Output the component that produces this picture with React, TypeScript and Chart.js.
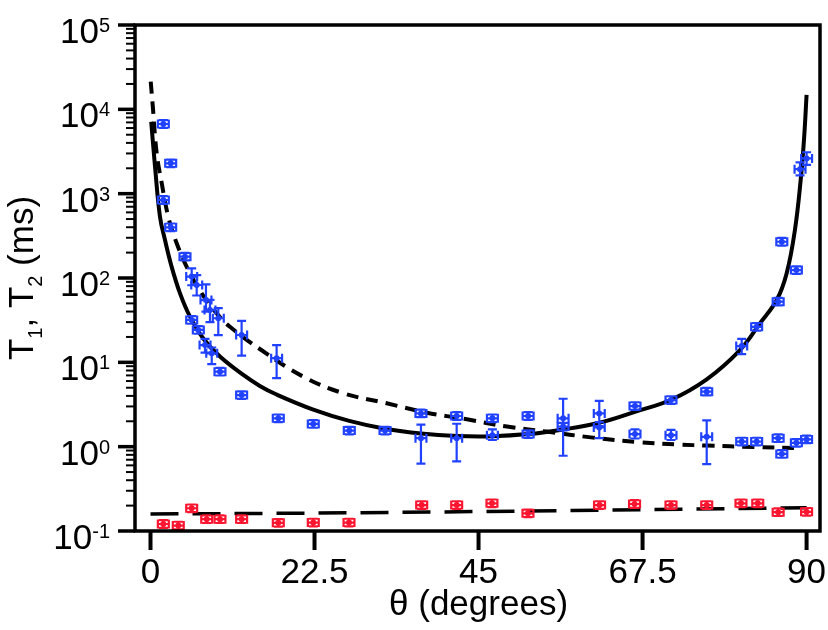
import React, { useEffect, useRef } from 'react';
import { Chart, registerables, Plugin } from 'chart.js';

Chart.register(...registerables);

const FONT = '"Liberation Sans", Arial, Helvetica, sans-serif';
const BLUE = 'rgb(32, 66, 255)';
const RED = 'rgb(250, 22, 48)';

// axis ticks
const xTicks = [0, 22.5, 45, 67.5, 90];
const xTickLabels = ['0', '22.5', '45', '67.5', '90'];
const yDecades = [-1, 0, 1, 2, 3, 4, 5];

// T1 measurements (blue), value in ms; null error = the usual tiny bar
const t1Theta = [
  1.76, 2.77, 1.76, 2.77, 4.73, 5.65, 6.34, 7.61, 8.16, 9.3,
  5.65, 6.56, 7.48, 8.4, 9.53, 12.5, 17.3, 12.5, 17.53, 22.33,
  27.27, 32.17, 37.1, 37.1, 42.0, 42.0, 46.9, 46.9, 51.8, 51.8,
  56.6, 56.6, 61.56, 61.56, 66.46, 66.46, 71.4, 71.4, 76.3, 76.3,
  81.1, 81.1, 83.15, 86.1, 86.6, 88.6, 90.0, 90.0, 89.1, 86.6,
  88.6, 86.1, 83.15,
];
const t1Value = [
  6700, 2290, 841, 399, 179, 104, 82.6, 54.8, 41.7, 33.3,
  31.8, 24.2, 16.0, 12.8, 7.74, 21.1, 11.2, 4.09, 2.17, 1.86,
  1.55, 1.55, 2.48, 1.26, 2.31, 1.26, 2.17, 1.37, 2.31, 1.41,
  2.17, 1.73, 2.48, 1.69, 3.03, 1.41, 3.57, 1.37, 4.49, 1.31,
  15.6, 1.15, 1.15, 1.26, 0.82, 1.11, 1.22, 2620, 1950, 269,
  124, 52.4, 26.4,
];
const t1Low = [
  null, null, null, null, null, 82, 62, 40, 30, 21,
  null, null, 13, 9.5, null, 12, 6.5, null, null, null,
  null, null, null, 0.63, null, 0.67, null, 1.2, null, null,
  0.78, null, 1.75, 1.26, null, 1.25, null, 1.2, null, 0.62,
  12.5, null, null, null, null, null, null, 2200, 1650, null,
  null, null, null,
];
const t1High = [
  null, null, null, null, null, 130, 108, 84, 55, 44,
  null, null, 19, 15, null, 31, 16, null, null, null,
  null, null, null, 1.83, null, 1.87, null, 1.6, null, null,
  3.7, null, 3.5, 1.95, null, 1.6, null, 1.58, null, 2.05,
  19, null, null, null, null, null, null, 3100, 2350, null,
  null, null, null,
];

// T2 measurements (red)
const t2Theta = [
  1.76, 3.81, 5.65, 7.71, 9.53, 12.5, 17.53, 22.33, 27.23, 37.2,
  42.0, 46.84, 51.78, 61.6, 66.4, 71.4, 76.3, 81.0, 83.3, 86.1, 90.0,
];
const t2Value = [
  0.121, 0.116, 0.186, 0.138, 0.138, 0.138, 0.125, 0.126, 0.126, 0.203,
  0.203, 0.213, 0.162, 0.203, 0.209, 0.203, 0.203, 0.213, 0.213, 0.167, 0.169,
];

const SMALL_ERR = 0.045; // decades, typical half-height of the small bars
const THETA_ERR = 0.75; // degrees

// solid curve (T1 fit)
const fitT1Theta = [
  0.1, 0.62, 1.3, 1.99, 2.9, 4.05, 5.42, 7.24, 9.53, 12.73, 15.0, 17.3,
  22.33, 27.27, 32.17, 37.1, 42.0, 46.9, 51.8, 56.2, 61.56, 66.46, 71.4,
  76.3, 80.86, 83.6, 85.9, 87.27, 88.4, 89.19, 89.64, 90.0,
];
const fitT1Value = [
  7130, 2090, 533, 282, 136, 65.8, 34.8, 19.2, 11.7, 7.08, 5.25, 4.15,
  2.75, 2.02, 1.63, 1.43, 1.34, 1.33, 1.41, 1.58, 1.92, 2.59, 3.6,
  6.3, 14.0, 29, 54.8, 114, 371, 1450, 4330, 14800,
];

// short-dashed curve
const modelTheta = [
  0.03, 0.3, 0.85, 1.54, 2.44, 3.59, 5.19, 7.02, 9.08, 10.9, 15.2, 20.96,
  26.45, 32.4, 37.9, 43.4, 48.9, 54.3, 60.7, 67.1, 72.6, 76.3, 82.7, 89.1,
];
const modelValue = [
  21300, 11250, 3010, 1330, 533, 258, 124, 65.8, 38.1, 26.4, 14.0, 6.76,
  4.3, 3.27, 2.53, 2.11, 1.73, 1.51, 1.28, 1.13, 1.06, 1.03, 0.99, 0.96,
];

// long-dashed line (T2 fit)
const fitT2Theta = [0, 22.5, 45, 67.5, 90];
const fitT2Value = [0.159, 0.163, 0.17, 0.179, 0.189];

const toPoints = (xs: number[], ys: number[]) => xs.map((x, i) => ({ x, y: ys[i] }));

const errorBars: Plugin = {
  id: 'errorBars',
  afterDatasetsDraw(chart) {
    const { ctx } = chart;
    const xs = chart.scales.x;
    const ys = chart.scales.y;
    const cap = 4.5;
    const draw = (th: number[], val: number[], lo: (number | null)[], hi: (number | null)[], color: string) => {
      ctx.save();
      ctx.strokeStyle = color;
      ctx.lineWidth = 2.2;
      th.forEach((t, i) => {
        const v = val[i];
        const px = xs.getPixelForValue(t);
        const py = ys.getPixelForValue(v);
        const xl = xs.getPixelForValue(t - THETA_ERR);
        const xr = xs.getPixelForValue(t + THETA_ERR);
        const yTop = ys.getPixelForValue(hi[i] ?? v * Math.pow(10, SMALL_ERR));
        const yBot = ys.getPixelForValue(lo[i] ?? v / Math.pow(10, SMALL_ERR));
        ctx.beginPath();
        ctx.moveTo(xl, py); ctx.lineTo(xr, py);
        ctx.moveTo(xl, py - cap); ctx.lineTo(xl, py + cap);
        ctx.moveTo(xr, py - cap); ctx.lineTo(xr, py + cap);
        ctx.moveTo(px, yTop); ctx.lineTo(px, yBot);
        ctx.moveTo(px - cap, yTop); ctx.lineTo(px + cap, yTop);
        ctx.moveTo(px - cap, yBot); ctx.lineTo(px + cap, yBot);
        ctx.stroke();
      });
      ctx.restore();
    };
    draw(t1Theta, t1Value, t1Low, t1High, BLUE);
    draw(t2Theta, t2Value, t2Value.map(() => null), t2Value.map(() => null), RED);
  },
};

const axesDecor: Plugin = {
  id: 'axesDecor',
  afterDraw(chart) {
    const { ctx, chartArea } = chart;
    const { left, right, top, bottom } = chartArea;
    const xs = chart.scales.x;
    const ys = chart.scales.y;
    ctx.save();
    ctx.strokeStyle = '#000';
    ctx.fillStyle = '#000';

    // frame
    ctx.lineWidth = 3.5;
    ctx.strokeRect(left, top, right - left, bottom - top);

    // x ticks + labels
    ctx.lineWidth = 4;
    ctx.font = `35px ${FONT}`;
    ctx.textAlign = 'center';
    ctx.textBaseline = 'alphabetic';
    xTicks.forEach((t, i) => {
      const px = xs.getPixelForValue(t);
      ctx.beginPath();
      ctx.moveTo(px, bottom);
      ctx.lineTo(px, bottom + 19);
      ctx.stroke();
      ctx.fillText(xTickLabels[i], px, 583);
    });

    // y ticks
    yDecades.forEach((d) => {
      const py = ys.getPixelForValue(Math.pow(10, d));
      ctx.lineWidth = 3.5;
      ctx.beginPath();
      ctx.moveTo(left - 17, py);
      ctx.lineTo(left, py);
      ctx.stroke();
      if (d < 5) {
        ctx.lineWidth = 2;
        for (let m = 2; m <= 9; m++) {
          const pm = ys.getPixelForValue(m * Math.pow(10, d));
          ctx.beginPath();
          ctx.moveTo(left - 9, pm);
          ctx.lineTo(left, pm);
          ctx.stroke();
        }
      }
      // label 10^d
      const sup = String(d);
      ctx.font = `20px ${FONT}`;
      const supW = ctx.measureText(sup).width;
      ctx.textAlign = 'left';
      ctx.fillText(sup, 110 - supW, py + 7);
      ctx.font = `35px ${FONT}`;
      ctx.textAlign = 'right';
      ctx.fillText('10', 110 - supW, py + 18);
    });

    // x title
    ctx.font = `35px ${FONT}`;
    ctx.textAlign = 'center';
    ctx.fillText('θ (degrees)', (xs.getPixelForValue(0) + xs.getPixelForValue(90)) / 2, 615);

    // y title with subscripts
    const parts: [string, boolean][] = [['T', false], ['1', true], [', ', false], ['T', false], ['2', true], [' (ms)', false]];
    const fontFor = (sub: boolean) => (sub ? `20px ${FONT}` : `35px ${FONT}`);
    let total = 0;
    parts.forEach(([s, sub]) => {
      ctx.font = fontFor(sub);
      total += ctx.measureText(s).width;
    });
    ctx.translate(33, (top + bottom) / 2);
    ctx.rotate(-Math.PI / 2);
    ctx.textAlign = 'left';
    let cx = -total / 2;
    parts.forEach(([s, sub]) => {
      ctx.font = fontFor(sub);
      ctx.fillText(s, cx, sub ? 9 : 0);
      cx += ctx.measureText(s).width;
    });
    ctx.restore();
  },
};

export default function App() {
  const canvasRef = useRef<HTMLCanvasElement>(null);
  const chartRef = useRef<Chart | null>(null);

  useEffect(() => {
    if (!canvasRef.current) return;
    if (chartRef.current) chartRef.current.destroy();

    chartRef.current = new Chart(canvasRef.current, {
      type: 'scatter',
      data: {
        datasets: [
          {
            label: 'T1',
            data: toPoints(t1Theta, t1Value),
            pointRadius: 3,
            pointBackgroundColor: BLUE,
            pointBorderWidth: 0,
          },
          {
            label: 'T2',
            data: toPoints(t2Theta, t2Value),
            pointRadius: 3,
            pointBackgroundColor: RED,
            pointBorderWidth: 0,
          },
          {
            label: 'T1 fit',
            data: toPoints(fitT1Theta, fitT1Value),
            showLine: true,
            borderColor: '#000',
            borderWidth: 4,
            pointRadius: 0,
            tension: 0.4,
          },
          {
            label: 'model',
            data: toPoints(modelTheta, modelValue),
            showLine: true,
            borderColor: '#000',
            borderWidth: 4,
            borderDash: [12, 8],
            pointRadius: 0,
            tension: 0.4,
          },
          {
            label: 'T2 fit',
            data: toPoints(fitT2Theta, fitT2Value),
            showLine: true,
            borderColor: '#000',
            borderWidth: 3.5,
            borderDash: [28, 14],
            pointRadius: 0,
          },
        ],
      },
      options: {
        animation: false,
        responsive: true,
        maintainAspectRatio: false,
        layout: { padding: { left: 135, right: 8, top: 25, bottom: 99 } },
        plugins: {
          legend: { display: false },
          tooltip: { enabled: false },
        },
        scales: {
          x: { type: 'linear', display: false, min: -2.126, max: 91.84 },
          y: { type: 'logarithmic', display: false, min: 0.1, max: 100000 },
        },
      },
      plugins: [errorBars, axesDecor],
    });

    return () => {
      if (chartRef.current) {
        chartRef.current.destroy();
        chartRef.current = null;
      }
    };
  }, []);

  return (
    <div style={{ position: 'absolute', left: 0, top: 0, width: 828, height: 630, background: '#fff' }}>
      <canvas ref={canvasRef}></canvas>
    </div>
  );
}
